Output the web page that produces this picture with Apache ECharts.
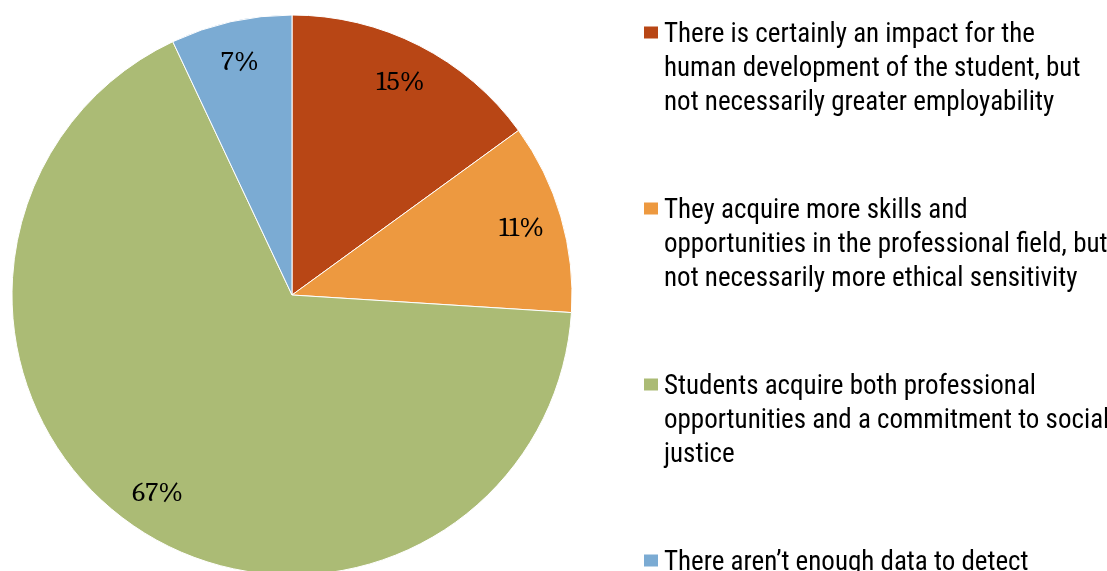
<!DOCTYPE html>
<html>
<head>
<meta charset="utf-8">
<style>
  html, body { margin: 0; padding: 0; background: #ffffff; }
  #chart { width: 1107px; height: 571px; }
</style>
<script src="https://cdn.jsdelivr.net/npm/echarts@6/dist/echarts.min.js"></script>
</head>
<body>
<div id="chart"></div>
<script>
// Survey answers and their shares (percent)
const categories = [
  'There is certainly an impact for the\nhuman development of the student, but\nnot necessarily greater employability',
  'They acquire more skills and\nopportunities in the professional field, but\nnot necessarily more ethical sensitivity',
  'Students acquire both professional\nopportunities and a commitment to social\njustice',
  'There aren\u2019t enough data to detect'
];
const shares = [15, 11, 67, 7];
const colors = ['#B84615', '#ED9940', '#ABBB75', '#7BABD3'];

const LINE_H = 34;     // legend line spacing
const ITEM_H = 176;    // height reserved for every legend entry
const ICON_OFFSET = 3; // first text line sits a little below the icon centre

const pieData = categories.map((name, i) => ({ name, value: shares[i], itemStyle: { color: colors[i] } }));

// every legend entry gets a padded box of equal height, with the icon beside its first line
const legendData = categories.map((name) => {
  const lines = name.split('\n').length;
  const top = ITEM_H / 2 - LINE_H / 2 + ICON_OFFSET;
  const bottom = ITEM_H - lines * LINE_H - top;
  return { name, textStyle: { padding: [top, 0, bottom, 0] } };
});

const chart = echarts.init(document.getElementById('chart'), null, { renderer: 'canvas' });
chart.setOption({
  animation: false,
  backgroundColor: '#ffffff',
  legend: {
    orient: 'vertical',
    left: 642,
    top: 32.5 - ITEM_H / 2,
    height: 1000,
    padding: 0,
    itemGap: 0,
    itemWidth: 16,
    itemHeight: 14,
    icon: 'rect',
    selectedMode: false,
    data: legendData,
    formatter: (name) => name.split('\n').map((s) => '{t|' + s + '}').join('\n'),
    textStyle: {
      backgroundColor: 'rgba(255,255,255,0)',
      rich: {
        t: {
          fontFamily: '"Roboto Condensed", "Liberation Sans", Arial, sans-serif',
          fontSize: 27,
          lineHeight: LINE_H,
          color: '#000000'
        }
      }
    }
  },
  series: [
    {
      type: 'pie',
      center: [292, 295],
      radius: 280,
      startAngle: 90,
      clockwise: true,
      silent: true,
      label: { show: false },
      labelLine: { show: false },
      itemStyle: { borderColor: '#ffffff', borderWidth: 1 },
      data: pieData
    },
    {
      // ring that only carries the percentage labels
      type: 'pie',
      center: [292, 295],
      radius: [192, 280],
      startAngle: 90,
      clockwise: true,
      silent: true,
      itemStyle: { color: 'rgba(0,0,0,0)' },
      emphasis: { disabled: true },
      label: {
        show: true,
        position: 'inside',
        formatter: '{c}%',
        fontFamily: 'Caladea, Cambria, "Liberation Serif", serif',
        fontSize: 28,
        color: '#000000'
      },
      labelLine: { show: false },
      data: categories.map((name, i) => ({ name, value: shares[i] }))
    }
  ]
});
</script>
</body>
</html>
